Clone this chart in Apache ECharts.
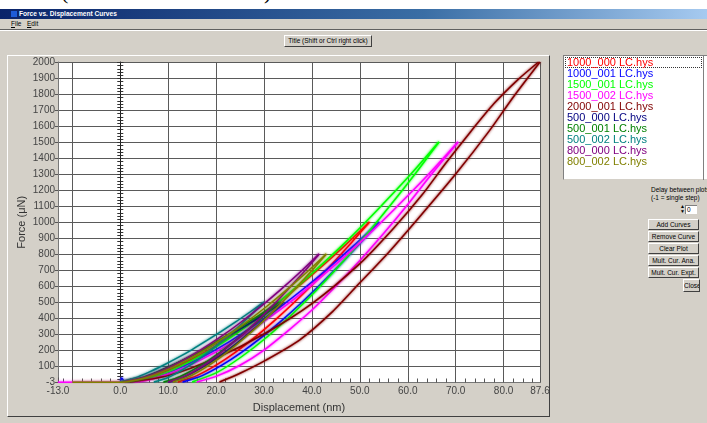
<!DOCTYPE html>
<html><head><meta charset="utf-8">
<script src="https://cdn.jsdelivr.net/npm/echarts@6/dist/echarts.min.js"></script>
<style>
body{margin:0;width:707px;height:423px;overflow:hidden;background:#d4d0c8;font-family:"Liberation Sans",Arial,sans-serif;position:relative}
.a{position:absolute}
#top{left:0;top:0;width:707px;height:9px;background:#fff;overflow:hidden}
#top span{position:absolute;top:-21px;font-family:"Liberation Serif","Times New Roman",serif;font-size:22px;color:#000}
#tbar{left:0;top:9px;width:707px;height:10px;background:linear-gradient(to right,#0a246a,#3a6ea5 60%,#a6caf0)}
#tbar .t{position:absolute;left:19px;top:0;font:bold 6.6px "Liberation Sans",Arial,sans-serif;line-height:10px;color:#fff}
#tbar .ic{position:absolute;left:11px;top:2px;width:6px;height:6px;background:#1d5cd8}
#menu{left:0;top:19px;width:707px;height:10px;font-size:6.5px;line-height:10px;color:#000}
#menu span{position:absolute;top:0}
#sep{left:0;top:29px;width:707px;height:1px;background:#606060;border-bottom:1px solid #fff}
.btn{position:absolute;background:#d4d0c8;border:1px solid;border-color:#fff #404040 #404040 #fff;box-sizing:border-box;font-size:6.5px;text-align:center;color:#000;white-space:nowrap;overflow:hidden}
#panel{left:7px;top:55px;width:543px;height:362px;box-sizing:border-box;border:1px solid;border-color:#fff #404040 #404040 #fff}
#lbox{left:563px;top:55px;width:150px;height:125px;background:#fff;box-sizing:border-box;border-top:1px solid #808080;border-left:1px solid #808080;border-bottom:1px solid #d4d0c8}
#focus{left:565px;top:57px;width:137px;height:11px;box-sizing:border-box;border:1px dotted #333}
#sb{left:703px;top:56px;width:1px;height:124px;background:#808080}
.sm{position:absolute;font-size:6.5px;color:#000;white-space:nowrap}
#chart{position:absolute;left:0;top:0;width:707px;height:423px;z-index:5}
</style></head>
<body>
<div id="top" class="a"><span style="left:61px">(</span><span style="left:185px">I</span><span style="left:264px">)</span></div>
<div id="tbar" class="a"><div class="ic"></div><div class="t">Force vs. Displacement Curves</div></div>
<div id="menu" class="a"><span style="left:11px"><u>F</u>ile</span><span style="left:27px"><u>E</u>dit</span></div>
<div id="sep" class="a"></div>
<div class="btn" style="left:284px;top:35px;width:88px;height:12px;line-height:10px">Title (Shift or Ctrl right click)</div>
<div id="panel" class="a"></div>
<div id="lbox" class="a"></div>
<div id="focus" class="a"></div>
<div id="sb" class="a"></div>
<div class="sm" style="left:651px;top:186px">Delay between plots</div>
<div class="sm" style="left:651px;top:194px">(-1 = single step)</div>
<div class="sm" style="left:680px;top:204px;font-size:5px;line-height:5px">▲<br>▼</div>
<div class="a" style="left:685px;top:205px;width:12px;height:9px;background:#fff;border-top:1px solid #808080;border-left:1px solid #808080;box-sizing:border-box;font-size:6.5px;line-height:8px;padding-left:1px">0</div>
<div class="btn" style="left:648px;top:219px;width:51px;height:11px;line-height:9px">Add Curves</div>
<div class="btn" style="left:648px;top:231px;width:51px;height:11px;line-height:9px">Remove Curve</div>
<div class="btn" style="left:648px;top:243px;width:51px;height:11px;line-height:9px">Clear Plot</div>
<div class="btn" style="left:648px;top:255px;width:51px;height:11px;line-height:9px">Mult. Cur. Ana.</div>
<div class="btn" style="left:648px;top:267px;width:51px;height:11px;line-height:9px">Mult. Cur. Expt.</div>
<div class="btn" style="left:683px;top:279px;width:17px;height:13px;line-height:11px">Close</div>
<div id="chart"></div>
<script>
// ---- data (displacement nm, force uN) ----
const seriesNames = ['1000_000 LC.hys','1000_001 LC.hys','1500_001 LC.hys','1500_002 LC.hys','2000_001 LC.hys','500_000 LC.hys','500_001 LC.hys','500_002 LC.hys','800_000 LC.hys','800_002 LC.hys'];
const seriesColors = ['#ff0000','#0000ff','#00ff00','#ff00ff','#800000','#000080','#008000','#008080','#800080','#808000'];

const red_load = [[1,0],[6.1,32],[11.2,89],[16.3,164],[21.4,253],[26.5,354],[31.6,465],[36.7,586],[41.8,716],[46.9,854],[52,1000]];
const red_unload = [[52,1000],[48,863],[44,732],[40,607],[36,489],[32,379],[28,277],[24,185],[20,105],[16,40],[12,0]];
const blue_load = [[0,0],[0.3,25],[0.8,4],[2,0],[7.2,32],[12.4,89],[17.6,164],[22.8,253],[28,354],[33.2,465],[38.4,586],[43.6,716],[48.8,854],[54,1000]];
const blue_unload = [[54,1000],[49.9,863],[45.8,732],[41.7,607],[37.6,489],[33.5,379],[29.4,277],[25.3,185],[21.2,105],[17.1,40],[13,0]];
const green_load = [[2,0],[8.5,47],[14.9,134],[21.4,246],[27.8,380],[34.3,531],[40.7,698],[47.2,879],[53.6,1074],[60.1,1281],[66.5,1500]];
const green_unload = [[66.5,1500],[61.4,1295],[56.2,1098],[51.1,911],[45.9,734],[40.8,569],[35.6,416],[30.5,278],[25.3,158],[20.2,60],[15,0]];
const magenta_load = [[-13,-2],[-10,-2],[3,0],[9.8,47],[16.5,134],[23.3,246],[30,380],[36.8,531],[43.5,698],[50.3,879],[57,1074],[63.8,1281],[70.5,1500]];
const magenta_unload = [[70.5,1500],[65,1300],[60,1110],[55,930],[50,760],[45,600],[40,450],[35,320],[30,200],[25,105],[20,35],[16,0]];
const brown_load = [[2,0],[10,40],[20,150],[30,300],[40,490],[50,740],[57,960],[63,1170],[68,1370],[73,1560],[78,1740],[83,1890],[87.3,2000]];
const brown_unload = [[87.6,2000],[82,1780],[76.9,1565],[70,1300],[62.4,1030],[56,810],[50,620],[44.3,440],[37.4,262],[30.4,137],[25,55],[20.7,0]];
const navy_load = [[1,0],[4.3,25],[7.6,62],[10.9,105],[14.2,152],[17.5,203],[20.8,258],[24.1,315],[27.4,374],[30.7,436],[34,500]];
const navy_unload = [[34,500],[31.6,432],[29.2,366],[26.8,304],[24.4,245],[22,190],[19.6,139],[17.2,93],[14.8,53],[12.4,20],[10,0]];
const dgreen_load = [[1.5,0],[4.7,25],[7.8,62],[11,105],[14.1,152],[17.3,203],[20.4,258],[23.6,315],[26.7,374],[29.9,436],[33,500]];
const dgreen_unload = [[33,500],[30.6,432],[28.2,366],[25.8,304],[23.4,245],[21,190],[18.6,139],[16.2,93],[13.8,53],[11.4,20],[9,0]];
const teal_load = [[0,0],[3,25],[6,62],[9,105],[12,152],[15,203],[18,258],[21,315],[24,374],[27,436],[30,500]];
const teal_unload = [[30,500],[27.7,432],[25.4,366],[23.1,304],[20.8,245],[18.5,190],[16.2,139],[13.9,93],[11.6,53],[9.3,20],[7,0]];
const purple_load = [[0.5,0],[4.6,25],[8.7,71],[12.8,131],[16.9,202],[21,283],[25.1,372],[29.2,469],[33.3,573],[37.4,683],[41.5,800]];
const purple_unload = [[41.5,800],[38.4,690],[35.2,586],[32.1,486],[28.9,391],[25.8,303],[22.6,222],[19.5,148],[16.3,84],[13.2,32],[10,0]];
const olive_load = [[-10,-2],[0,-2],[1,0],[5.2,25],[9.4,71],[13.6,131],[17.8,202],[22,283],[26.2,372],[30.4,469],[34.6,573],[38.8,683],[43,800]];
const olive_unload = [[43,800],[39.8,690],[36.6,586],[33.4,486],[30.2,391],[27,303],[23.8,222],[20.6,148],[17.4,84],[14.2,32],[11,0]];

const loadBranches = [red_load, blue_load, green_load, magenta_load, brown_load, navy_load, dgreen_load, teal_load, purple_load, olive_load];
const unloadBranches = [red_unload, blue_unload, green_unload, magenta_unload, brown_unload, navy_unload, dgreen_unload, teal_unload, purple_unload, olive_unload];

// ---- axis ticks / labels ----
const xLabelValues = [-13, 0, 10, 20, 30, 40, 50, 60, 70, 80, 87.6];
const xMajorTicks = [-13, -10, 0, 10, 20, 30, 40, 50, 60, 70, 80, 87.6];
const xMinorTicks = [-12,-8,-6,-4,-2,2,4,6,8,12,14,16,18,22,24,26,28,32,34,36,38,42,44,46,48,52,54,56,58,62,64,66,68,72,74,76,78,82,84,86];
const yTickValues = [-3,100,200,300,400,500,600,700,800,900,1000,1100,1200,1300,1400,1500,1600,1700,1800,1900,2000];

const chart = echarts.init(document.getElementById('chart'), null, {renderer:'canvas'});
const font = 'Liberation Sans';
const gridColor = '#5a5a5a';

function branch(name, i, data) {
  return {
    name:name, type:'line', xAxisIndex:0, yAxisIndex:0, data:data,
    showSymbol:false, symbol:'none', smooth:0.25, z:3+i,
    lineStyle:{color:seriesColors[i], width:1.5, shadowColor:seriesColors[i], shadowBlur:2.5},
    itemStyle:{color:seriesColors[i]}
  };
}
const series = [];
seriesNames.forEach((n,i)=>{ series.push(branch(n,i,loadBranches[i])); series.push(branch(n,i,unloadBranches[i])); });

chart.setOption({
  animation: false,
  backgroundColor: 'transparent',
  grid: {left:58, top:62, width:482, height:320.5, show:true, backgroundColor:'#fff', borderWidth:0},
  legend: {
    orient:'vertical', left:562, top:57, itemWidth:0, itemHeight:11, itemGap:0, selectedMode:false,
    icon:'rect', padding:0,
    textStyle:{fontSize:11, fontFamily:font, lineHeight:11, padding:0},
    data: seriesNames.map((n,i)=>({name:n, textStyle:{color:seriesColors[i]}}))
  },
  xAxis: [
    {type:'value', min:-13, max:87.6, position:'bottom',
     axisLine:{onZero:false, lineStyle:{color:'#777'}},
     axisTick:{inside:true, length:5, customValues:xMajorTicks, lineStyle:{color:'#555'}},
     axisLabel:{customValues:xLabelValues, formatter:v=>v.toFixed(1), color:'#444', fontSize:10, fontFamily:font, margin:4},
     splitLine:{show:true, lineStyle:{color:gridColor, width:1}},
     name:'Displacement (nm)', nameLocation:'middle', nameGap:20, nameTextStyle:{fontSize:11, color:'#333', fontFamily:font}},
    {type:'value', min:-13, max:87.6, position:'bottom',
     axisLine:{show:false, onZero:false},
     axisTick:{inside:true, length:4, customValues:xMinorTicks, lineStyle:{color:'#555'}},
     axisLabel:{show:false}, splitLine:{show:false}}
  ],
  yAxis: [
    {type:'value', min:-3, max:2000, position:'left',
     axisLine:{show:true, onZero:false, lineStyle:{color:'#777'}},
     axisTick:{show:true, length:3, customValues:yTickValues, lineStyle:{color:'#555'}},
     axisLabel:{customValues:yTickValues, formatter:v=>String(v), color:'#444', fontSize:10, fontFamily:font, margin:3},
     splitLine:{show:true, lineStyle:{color:gridColor, width:1}},
     name:'Force (\u03bcN)', nameLocation:'middle', nameGap:31, nameRotate:90, nameMoveOverlap:false,
     nameTextStyle:{fontSize:11, color:'#333', fontFamily:font}},
    {type:'value', min:-3, max:2000, interval:20, position:'left',
     axisLine:{show:true, onZero:true, onZeroAxisIndex:0, lineStyle:{color:'#222'}},
     axisTick:{show:true, length:3, inside:false, lineStyle:{color:'#333'}},
     axisLabel:{show:false}, splitLine:{show:false}},
    {type:'value', min:-3, max:2000, interval:20, position:'left',
     axisLine:{show:false, onZero:true, onZeroAxisIndex:0},
     axisTick:{show:true, length:3, inside:true, lineStyle:{color:'#333'}},
     axisLabel:{show:false}, splitLine:{show:false}}
  ],
  series: series
});
</script>
</body></html>
